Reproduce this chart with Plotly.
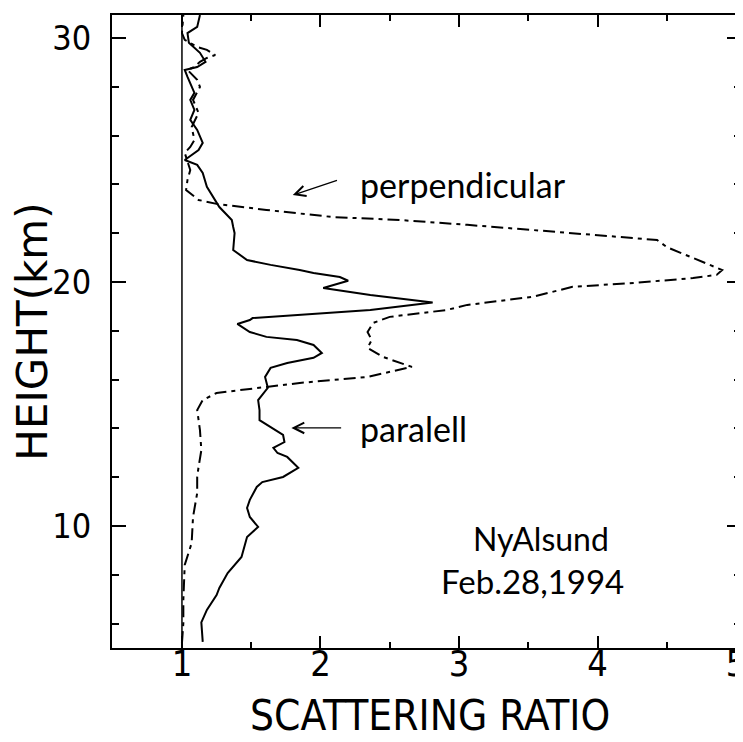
import plotly.graph_objects as go

# parallel channel (solid)
par_height = [5.25, 6.05, 6.56, 7.17, 7.46, 8.07, 8.73, 9.55, 9.96, 10.37, 10.74, 11.07, 11.60, 11.80,
              12.01, 12.38, 12.83, 12.99, 13.20, 13.44, 13.73, 14.06, 14.34, 14.75, 15.16, 15.66, 16.11,
              16.48, 16.68, 16.89, 17.09, 17.42, 17.62, 17.75, 17.95, 18.28, 18.44, 18.52, 18.65, 18.85,
              18.93, 19.16, 19.47, 19.75, 20.05, 20.2, 20.37, 20.49, 20.70, 20.9, 21.31, 22.0, 22.25,
              22.54, 23.07, 23.36, 23.9, 24.47, 24.8, 25.0, 25.41, 25.7, 26.23, 26.64, 27.05, 27.46,
              27.75, 28.4, 28.69, 28.81, 29.02, 29.39, 29.8, 30.2, 30.45, 30.94]
par_ratio = [1.15, 1.14, 1.18, 1.25, 1.27, 1.33, 1.43, 1.47, 1.55, 1.49, 1.47, 1.49, 1.54, 1.58,
             1.73, 1.84, 1.76, 1.69, 1.66, 1.74, 1.73, 1.64, 1.56, 1.56, 1.55, 1.62, 1.60,
             1.64, 1.76, 1.95, 2.01, 1.95, 1.83, 1.61, 1.49, 1.40, 1.49, 1.51, 1.87, 2.36,
             2.48, 2.81, 2.36, 2.02, 2.20, 2.14, 1.95, 1.85, 1.64, 1.47, 1.37, 1.38, 1.37,
             1.36, 1.27, 1.24, 1.18, 1.15, 1.11, 1.02, 1.12, 1.15, 1.11, 1.06, 1.09, 1.06,
             1.09, 1.04, 1.02, 1.11, 1.17, 1.13, 1.05, 1.04, 1.11, 1.13]

# perpendicular channel (dash-dot)
perp_height = [5.2, 6.02, 6.97, 7.91, 8.40, 9.30, 10.37, 11.35, 12.01, 12.42, 12.83, 13.11, 13.93,
               14.75, 15.16, 15.45, 15.70, 15.86, 16.11, 16.39, 16.52, 16.93, 17.3, 17.62, 17.95,
               18.32, 18.57, 18.85, 19.06, 19.39, 19.67, 19.80, 19.96, 20.16, 20.29, 20.49, 20.70,
               21.02, 21.43, 21.72, 21.8, 21.93, 22.13, 22.34, 22.54, 22.66, 22.95, 23.2, 23.36,
               23.77, 24.18, 24.59, 25.29, 25.53, 25.82, 26.35, 26.93, 27.46, 27.99, 28.28, 28.69,
               28.81, 29.02, 29.18, 29.3, 29.51, 29.63, 29.92, 30.2, 30.94]
perp_ratio = [1.0, 1.01, 1.01, 1.02, 1.02, 1.07, 1.08, 1.11, 1.11, 1.12, 1.13, 1.14, 1.13,
              1.11, 1.15, 1.25, 1.61, 1.85, 2.34, 2.57, 2.66, 2.45, 2.34, 2.37, 2.34,
              2.38, 2.50, 2.91, 3.06, 3.53, 3.73, 3.82, 4.26, 4.69, 4.86, 4.90, 4.81,
              4.67, 4.50, 4.43, 4.26, 4.02, 3.53, 3.06, 2.57, 2.09, 1.61, 1.25, 1.12,
              1.03, 1.04, 1.06, 1.02, 1.06, 1.09, 1.07, 1.12, 1.08, 1.13, 1.11, 1.04,
              1.09, 1.13, 1.18, 1.24, 1.18, 1.11, 1.02, 1.0, 1.01]

x_ticks = [1, 2, 3, 4, 5]
y_ticks = [10, 20, 30]
ref_ratio = 1.0
x_range = [0.495, 5.036]
y_range = [5.0, 30.94]

TICKFONT = "DejaVu Sans Condensed, Liberation Sans, Arial"
YTITLEFONT = "DejaVu Sans, Liberation Sans, Arial"
TEXTFONT = "Lato, Open Sans, sans-serif"

fig = go.Figure()
fig.add_trace(go.Scatter(x=par_ratio, y=par_height, mode="lines",
                         line=dict(color="black", width=2), name="paralell"))
fig.add_trace(go.Scatter(x=perp_ratio, y=perp_height, mode="lines",
                         line=dict(color="black", width=2, dash="12px,5px,4px,5px"),
                         name="perpendicular"))
fig.add_shape(type="line", x0=ref_ratio, x1=ref_ratio, y0=0, y1=1, yref="paper",
              line=dict(color="black", width=1.5))

axis_common = dict(showgrid=False, zeroline=False, showline=True, linecolor="black",
                   linewidth=2, ticks="inside", tickcolor="black", mirror="ticks",
                   automargin=False, ticklabeloverflow="allow")

fig.update_xaxes(range=x_range, tickvals=x_ticks, ticklen=12, tickwidth=1.5,
                 minor=dict(dtick=0.5, tick0=0, ticklen=6, ticks="inside", tickcolor="black"),
                 tickfont=dict(family=TICKFONT, size=36, color="black"),
                 ticklabelstandoff=-17,
                 **axis_common)
fig.update_yaxes(range=y_range, tickvals=y_ticks, ticklen=14, tickwidth=1.5,
                 minor=dict(dtick=2, tick0=0, ticklen=7, ticks="inside", tickcolor="black"),
                 tickfont=dict(family=TICKFONT, size=34, color="black"),
                 title=dict(text="HEIGHT(km)", font=dict(family=YTITLEFONT, size=42, color="black"),
                            standoff=2),
                 ticklabelstandoff=12,
                 **axis_common)

# x-axis title
fig.add_annotation(x=0.505, y=-0.106, xref="paper", yref="paper", text="SCATTERING RATIO",
                   showarrow=False, xanchor="center", yanchor="middle",
                   font=dict(family=TICKFONT, size=42, color="black"))

fig.add_annotation(x=1.80, y=23.56, ax=2.13, ay=24.18, axref="x", ayref="y",
                   text="", showarrow=True, arrowhead=5, arrowsize=1.6, arrowwidth=1.3,
                   arrowcolor="black")
fig.add_annotation(x=2.27, y=24.0, text="perpendicular", showarrow=False, xanchor="left",
                   font=dict(family=TEXTFONT, size=34, color="black"))
fig.add_annotation(x=1.79, y=14.02, ax=2.16, ay=14.02, axref="x", ayref="y",
                   text="", showarrow=True, arrowhead=5, arrowsize=1.6, arrowwidth=1.3,
                   arrowcolor="black")
fig.add_annotation(x=2.27, y=14.0, text="paralell", showarrow=False, xanchor="left",
                   font=dict(family=TEXTFONT, size=34, color="black"))
fig.add_annotation(x=3.59, y=9.5, text="NyAlsund", showarrow=False, xanchor="center",
                   font=dict(family=TEXTFONT, size=32, color="black"))
fig.add_annotation(x=3.53, y=7.75, text="Feb.28,1994", showarrow=False, xanchor="center",
                   font=dict(family=TEXTFONT, size=33, color="black"))

# the page body adds an 8px margin, so the figure is sized to fill the 743x742 window exactly
fig.update_layout(width=735, height=734, margin=dict(l=104, r=2, t=7, b=94),
                  plot_bgcolor="white", paper_bgcolor="white", showlegend=False)

fig.write_html("out.html")
